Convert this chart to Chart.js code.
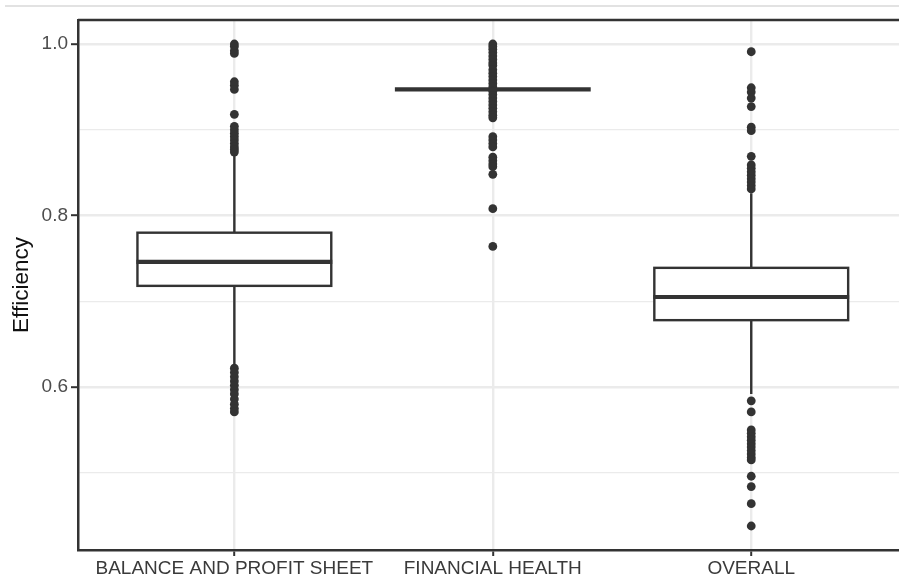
<!DOCTYPE html>
<html lang="en">
<head>
<meta charset="UTF-8">
<title>Efficiency boxplot</title>
<style>
  body { margin: 0; background: #fff; font-family: Arial, "Liberation Sans", sans-serif; }
  #wrap { position: relative; width: 899px; height: 579px; overflow: hidden; }
  #topRule { position: absolute; left: 5px; right: 0; top: 5px; height: 0; border-top: 2px solid #e2e2e2; }
  canvas { position: absolute; left: 0; top: 0; }
</style>
</head>
<body>
<div id="wrap">
  <div id="topRule"></div>
  <canvas id="boxChart" width="912" height="579"></canvas>
</div>

<script src="https://cdn.jsdelivr.net/npm/chart.js"></script>
<script>
  // categories and box statistics
  const categories = ['BALANCE AND PROFIT SHEET', 'FINANCIAL HEALTH', 'OVERALL'];
  const whiskerLow = [0.623, 0.947, 0.592];
  const q1 = [0.718, 0.947, 0.678];
  const median = [0.746, 0.947, 0.705];
  const q3 = [0.780, 0.947, 0.739];
  const whiskerHigh = [0.871, 0.947, 0.826];

  // outliers per category
  const balanceOutliers = [1.0, 0.997, 0.992, 0.989, 0.956, 0.952, 0.947, 0.918,
    0.904, 0.900, 0.896, 0.892, 0.888, 0.884, 0.880, 0.877, 0.874,
    0.622, 0.617, 0.612, 0.607, 0.602, 0.597, 0.592, 0.586, 0.580, 0.575, 0.571];
  const healthOutliers = [1.0, 0.997, 0.994, 0.990, 0.986, 0.982, 0.978, 0.975, 0.970,
    0.966, 0.962, 0.958, 0.954, 0.950, 0.945, 0.941, 0.937, 0.933, 0.929, 0.925,
    0.921, 0.917, 0.914, 0.892, 0.888, 0.884, 0.880, 0.868, 0.864, 0.860, 0.857,
    0.848, 0.808, 0.764];
  const overallOutliers = [0.991, 0.949, 0.944, 0.937, 0.927, 0.903, 0.899, 0.869,
    0.859, 0.855, 0.851, 0.847, 0.843, 0.839, 0.835, 0.831,
    0.584, 0.571, 0.550, 0.546, 0.542, 0.538, 0.534, 0.530, 0.526, 0.522, 0.518,
    0.515, 0.496, 0.484, 0.464, 0.438];

  const yTicksMajor = [0.6, 0.8, 1.0];

  const BOX_WIDTH = 0.75;
  const INK = '#333333';
  const GRID = '#ebebeb';
  const FONT = 'Arial, "Liberation Sans", sans-serif';

  const outlierSets = [balanceOutliers, healthOutliers, overallOutliers];
  const outlierPoints = [];
  outlierSets.forEach((vals, i) => vals.forEach(v => outlierPoints.push({ x: i + 1, y: v })));

  function isMajor(v) {
    return yTicksMajor.some(t => Math.abs(t - v) < 1e-6);
  }

  const boxPlugin = {
    id: 'boxes',
    afterDatasetsDraw(chart) {
      const { ctx, chartArea } = chart;
      const xs = chart.scales.x, ys = chart.scales.y;
      ctx.save();
      ctx.strokeStyle = INK;
      ctx.lineCap = 'butt';
      categories.forEach((c, i) => {
        const cx = xs.getPixelForValue(i + 1);
        const left = xs.getPixelForValue(i + 1 - BOX_WIDTH / 2);
        const right = xs.getPixelForValue(i + 1 + BOX_WIDTH / 2);
        const yq1 = ys.getPixelForValue(q1[i]);
        const yq3 = ys.getPixelForValue(q3[i]);
        // whiskers
        ctx.lineWidth = 2.4;
        ctx.beginPath();
        ctx.moveTo(cx, yq3); ctx.lineTo(cx, ys.getPixelForValue(whiskerHigh[i]));
        ctx.moveTo(cx, yq1); ctx.lineTo(cx, ys.getPixelForValue(whiskerLow[i]));
        ctx.stroke();
        // box
        if (yq1 - yq3 > 0.5) {
          ctx.fillStyle = '#ffffff';
          ctx.fillRect(left, yq3, right - left, yq1 - yq3);
          ctx.strokeRect(left, yq3, right - left, yq1 - yq3);
        }
        // median
        const ym = ys.getPixelForValue(median[i]);
        ctx.lineWidth = 4.2;
        ctx.beginPath();
        ctx.moveTo(left - 1, ym); ctx.lineTo(right + 1, ym);
        ctx.stroke();
      });
      // panel top border
      ctx.lineWidth = 2.5;
      ctx.beginPath();
      ctx.moveTo(chartArea.left, chartArea.top);
      ctx.lineTo(chartArea.right, chartArea.top);
      ctx.stroke();
      ctx.restore();
    }
  };

  new Chart(document.getElementById('boxChart'), {
    type: 'scatter',
    data: {
      datasets: [{
        data: outlierPoints,
        pointRadius: 4.4,
        pointHoverRadius: 4.4,
        backgroundColor: INK,
        borderWidth: 0
      }]
    },
    plugins: [boxPlugin],
    options: {
      responsive: false,
      animation: false,
      layout: { padding: { top: 20, right: 0, bottom: 0, left: 0 } },
      plugins: { legend: { display: false }, tooltip: { enabled: false } },
      scales: {
        x: {
          type: 'linear',
          min: 0.395,
          max: 3.605,
          border: { color: INK, width: 2.5 },
          grid: { color: GRID, lineWidth: 2.4, tickLength: 6, tickColor: INK, tickWidth: 2 },
          ticks: {
            stepSize: 1,
            includeBounds: false,
            autoSkip: false,
            maxRotation: 0,
            padding: 1,
            color: '#3a3a3a',
            font: { family: FONT, size: 19 },
            callback: v => categories[Math.round(v) - 1] || ''
          },
          afterFit: s => { s.height = 29; }
        },
        y: {
          min: 0.41,
          max: 1.028,
          border: { color: INK, width: 2.5 },
          grid: {
            color: GRID,
            lineWidth: c => (c.tick && isMajor(c.tick.value)) ? 2.4 : 1.2,
            tickLength: 7,
            tickWidth: 2,
            tickColor: c => (c.tick && isMajor(c.tick.value)) ? INK : 'rgba(0,0,0,0)'
          },
          ticks: {
            stepSize: 0.1,
            includeBounds: false,
            padding: 3,
            color: '#4d4d4d',
            font: { family: FONT, size: 19 },
            callback: v => isMajor(v) ? v.toFixed(1) : ''
          },
          title: {
            display: true,
            text: 'Efficiency',
            color: '#111',
            font: { family: FONT, size: 22.5 },
            padding: { top: 8, bottom: 0 }
          },
          afterFit: s => { s.width = 78; }
        }
      }
    }
  });
</script>
</body>
</html>
